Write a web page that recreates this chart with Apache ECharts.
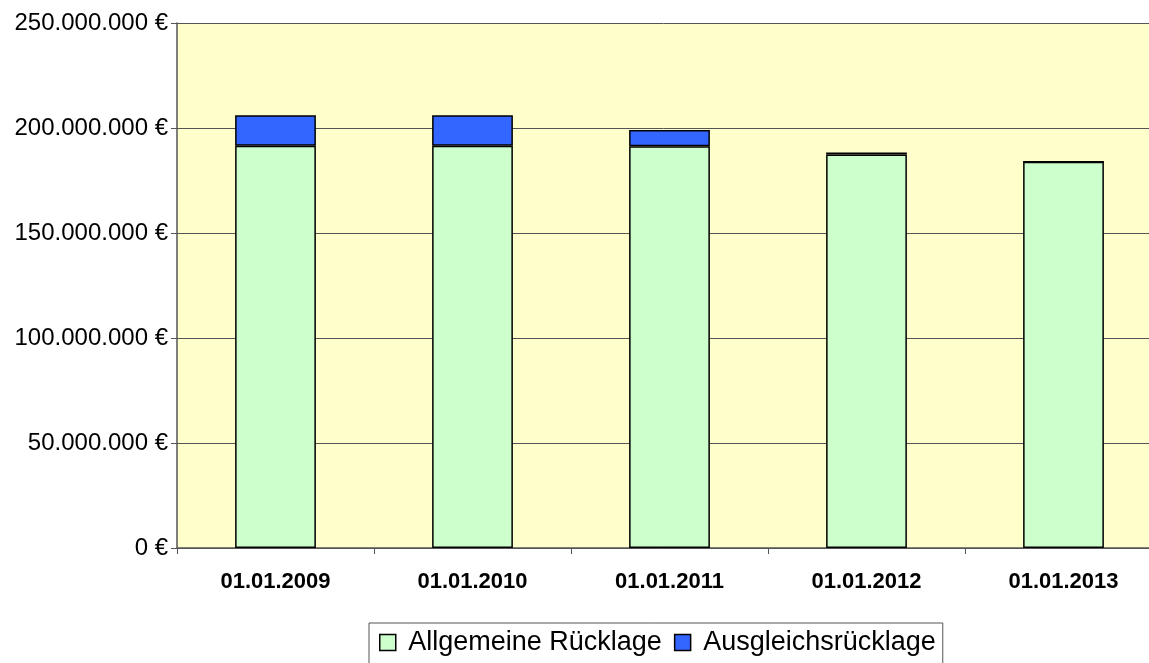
<!DOCTYPE html>
<html>
<head>
<meta charset="utf-8">
<script src="https://cdn.jsdelivr.net/npm/echarts@6/dist/echarts.min.js"></script>
<style>
  html, body { margin: 0; padding: 0; background: #fff; }
  #chart { width: 1149px; height: 663px; }
</style>
</head>
<body>
<div id="chart"></div>
<script>
var categories = ['01.01.2009', '01.01.2010', '01.01.2011', '01.01.2012', '01.01.2013'];
var allgemeine = [191500000, 191500000, 191300000, 187400000, 183900000];
var ausgleich = [14600000, 14600000, 7700000, 900000, 0];

function euro(v) {
  return String(Math.round(v)).replace(/\B(?=(\d{3})+(?!\d))/g, '.') + ' €';
}

var chart = echarts.init(document.getElementById('chart'));
chart.setOption({
  animation: false,
  textStyle: { fontFamily: 'Liberation Sans, Arial, sans-serif' },
  grid: {
    left: 177, width: 985, top: 23, bottom: 115,
    outerBoundsMode: 'none', containLabel: false,
    show: true, backgroundColor: '#FFFFCC', borderWidth: 0
  },
  legend: {
    left: 369, top: 623,
    icon: 'rect',
    itemWidth: 16, itemHeight: 16, itemGap: 12,
    padding: [6, 7, 8, 10],
    borderColor: '#555', borderWidth: 1,
    formatter: ' {name}',
    textStyle: { fontSize: 27, color: '#000' },
    data: [
      { name: 'Allgemeine Rücklage', itemStyle: { borderColor: '#000', borderWidth: 1.5 } },
      { name: 'Ausgleichsrücklage', itemStyle: { borderColor: '#000', borderWidth: 1.5 } }
    ]
  },
  xAxis: {
    type: 'category',
    data: categories,
    axisLine: { lineStyle: { color: '#555', width: 1.5 } },
    axisTick: { show: true, length: 6, lineStyle: { color: '#555' } },
    axisLabel: { fontSize: 22, fontWeight: 'bold', color: '#000', margin: 23 }
  },
  yAxis: {
    type: 'value',
    min: 0, max: 250000000, interval: 50000000,
    axisLine: { show: true, lineStyle: { color: '#555', width: 1.5 } },
    axisTick: { show: true, inside: false, length: 6, lineStyle: { color: '#555' } },
    splitLine: { lineStyle: { color: '#555', width: 1 } },
    axisLabel: { fontSize: 24, color: '#000', margin: 9, formatter: euro }
  },
  series: [
    {
      name: 'Allgemeine Rücklage', type: 'bar', stack: 'r',
      data: allgemeine, barCategoryGap: '59%',
      itemStyle: { color: '#CCFFCC', borderColor: '#000', borderWidth: 1.5 }
    },
    {
      name: 'Ausgleichsrücklage', type: 'bar', stack: 'r',
      data: ausgleich, barCategoryGap: '59%',
      itemStyle: { color: '#3366FF', borderColor: '#000', borderWidth: 1.5 }
    }
  ]
});
</script>
</body>
</html>
